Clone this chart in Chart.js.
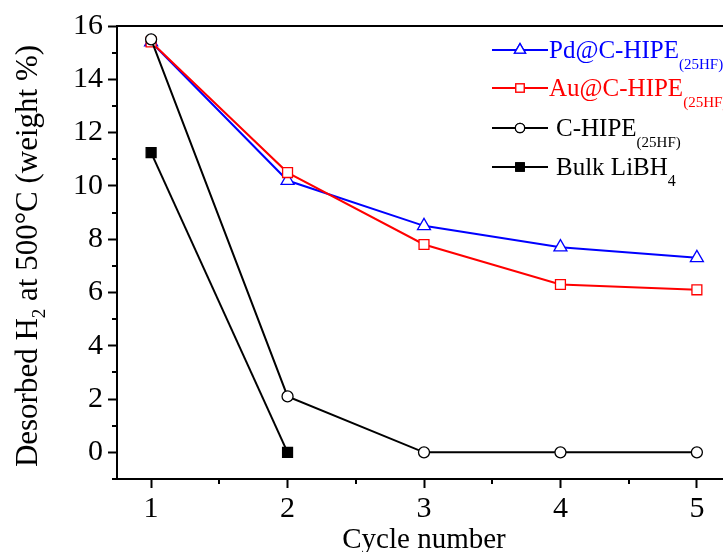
<!DOCTYPE html>
<html><head><meta charset="utf-8">
<script src="https://cdn.jsdelivr.net/npm/chart.js@4"></script>
<style>html,body{margin:0;padding:0;overflow:hidden;background:#fff}#wrap{width:740px;height:552px;position:relative}</style>
</head><body><div id="wrap"><canvas id="c" width="740" height="552"></canvas></div>
<script>
const cycles = [1, 2, 3, 4, 5];
const pdValues = [15.4, 10.2, 8.5, 7.7, 7.3];
const auValues = [15.4, 10.5, 7.8, 6.3, 6.1];
const cValues = [15.5, 2.1, 0, 0, 0];
const bulkCycles = [1, 2];
const bulkValues = [11.25, 0];
const xTicks = [1, 2, 3, 4, 5];
const yTicks = [0, 2, 4, 6, 8, 10, 12, 14, 16];
const xMinor = [1.5, 2.5, 3.5, 4.5];
const yMinor = [-1, 1, 3, 5, 7, 9, 11, 13, 15];
const seriesNames = ['Pd@C-HIPE', 'Au@C-HIPE', 'C-HIPE', 'Bulk LiBH'];
const seriesSubs = ['(25HF)', '(25HF)', '(25HF)', '4'];

const FONT = '"Liberation Serif", "Times New Roman", serif';
const pts = (xs, ys) => xs.map((x, i) => ({x: x, y: ys[i]}));

const styles = [
  {color: '#0000ff', style: 'triangle', radius: 7.5, fill: '#ffffff', order: 4},
  {color: '#ff0000', style: 'rect', radius: 7, fill: '#ffffff', order: 3},
  {color: '#000000', style: 'circle', radius: 5.5, fill: '#ffffff', order: 2},
  {color: '#000000', style: 'rect', radius: 7, fill: '#000000', order: 1}
];
const dataArr = [pts(cycles, pdValues), pts(cycles, auValues), pts(cycles, cValues), pts(bulkCycles, bulkValues)];

const datasets = dataArr.map((d, i) => ({
  label: seriesNames[i], data: d, order: styles[i].order,
  borderColor: styles[i].color, borderWidth: 2,
  pointStyle: styles[i].style, pointRadius: styles[i].radius,
  pointBackgroundColor: styles[i].fill, pointBorderColor: styles[i].color,
  pointBorderWidth: 1.3, pointHoverRadius: styles[i].radius, showLine: true, tension: 0, clip: false
}));

const decor = {
  id: 'decor',
  afterDraw(chart) {
    const ctx = chart.ctx, a = chart.chartArea, xs = chart.scales.x, ys = chart.scales.y;
    ctx.save();
    ctx.strokeStyle = '#000'; ctx.lineWidth = 2;
    ctx.strokeRect(a.left, a.top, a.right - a.left, a.bottom - a.top);
    ctx.beginPath();
    yMinor.forEach(v => { const p = Math.round(ys.getPixelForValue(v)); ctx.moveTo(a.left, p); ctx.lineTo(a.left - 5, p); });
    xMinor.forEach(v => { const p = Math.round(xs.getPixelForValue(v)); ctx.moveTo(p, a.bottom); ctx.lineTo(p, a.bottom + 5); });
    ctx.stroke();
    // x title
    ctx.fillStyle = '#000';
    ctx.font = '29px ' + FONT; ctx.textAlign = 'center'; ctx.textBaseline = 'alphabetic';
    ctx.fillText('Cycle number', 424, 548);
    // y title with subscript
    ctx.save();
    ctx.translate(37, 256); ctx.rotate(-Math.PI / 2);
    const p1 = 'Desorbed H', p2 = '2', p3 = ' at 500\u00B0C (weight %)';
    ctx.font = '31px ' + FONT; const w1 = ctx.measureText(p1).width, w3 = ctx.measureText(p3).width;
    ctx.font = '19px ' + FONT; const w2 = ctx.measureText(p2).width;
    let x0 = -(w1 + w2 + w3) / 2;
    ctx.textAlign = 'left';
    ctx.font = '31px ' + FONT; ctx.fillText(p1, x0, 0);
    ctx.font = '19px ' + FONT; ctx.fillText(p2, x0 + w1, 8);
    ctx.font = '31px ' + FONT; ctx.fillText(p3, x0 + w1 + w2, 0);
    ctx.restore();
    // legend
    const rows = [50, 88, 128, 167];
    rows.forEach((cy, i) => {
      const s = styles[i];
      ctx.strokeStyle = s.color; ctx.lineWidth = 2;
      ctx.beginPath(); ctx.moveTo(492, cy); ctx.lineTo(548, cy); ctx.stroke();
      ctx.fillStyle = s.fill; ctx.strokeStyle = s.color; ctx.lineWidth = 1.3;
      Chart.helpers.drawPoint(ctx, {pointStyle: s.style, radius: s.radius * 0.85, borderWidth: 1.3}, 520, cy);
      ctx.fill(); ctx.stroke();
      ctx.fillStyle = s.color === '#000000' ? '#000' : s.color;
      ctx.textAlign = 'left';
      ctx.font = '25px ' + FONT;
      const tx = i >= 2 ? 556 : 549;
      ctx.fillText(seriesNames[i], tx, cy + 8);
      const w = ctx.measureText(seriesNames[i]).width;
      ctx.font = (i === 3 ? '16px ' : '15px ') + FONT;
      ctx.fillText(seriesSubs[i], tx + w, cy + 19);
    });
    ctx.restore();
  }
};

new Chart(document.getElementById('c'), {
  type: 'scatter',
  data: {datasets: datasets},
  options: {
    responsive: false, animation: false,
    layout: {padding: {top: 26, right: 9, left: 0, bottom: 0}},
    plugins: {legend: {display: false}, tooltip: {enabled: false}},
    scales: {
      x: {
        type: 'linear', min: 0.75, max: 5.25,
        afterBuildTicks: s => { s.ticks = xTicks.map(v => ({value: v})); },
        afterFit: s => { s.height = 73; },
        grid: {display: true, drawOnChartArea: false, drawTicks: true, tickLength: 9, tickWidth: 2, tickColor: '#000'},
        border: {display: false},
        ticks: {color: '#000', font: {family: FONT, size: 30}, padding: 3, maxRotation: 0}
      },
      y: {
        type: 'linear', min: -1, max: 16,
        afterBuildTicks: s => { s.ticks = yTicks.map(v => ({value: v})); },
        afterFit: s => { s.width = 117; },
        grid: {display: true, drawOnChartArea: false, drawTicks: true, tickLength: 9, tickWidth: 2, tickColor: '#000'},
        border: {display: false},
        ticks: {color: '#000', font: {family: FONT, size: 30}, padding: 5}
      }
    }
  },
  plugins: [decor]
});
</script>
</body></html>
